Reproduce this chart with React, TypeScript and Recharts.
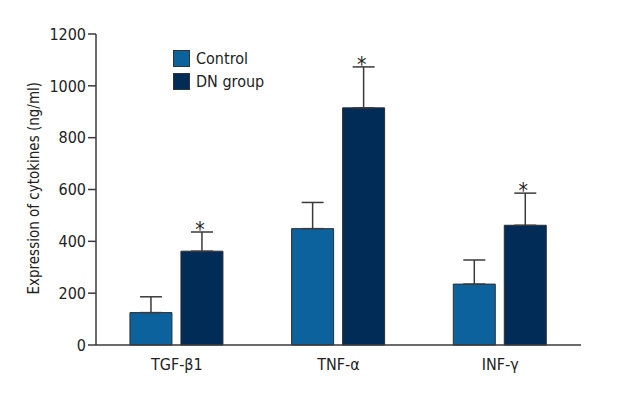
import { BarChart, Bar, XAxis, YAxis, ErrorBar, LabelList } from "recharts";

const categories = ["TGF-β1", "TNF-α", "INF-γ"];
const controlValues = [125, 449, 235];
const controlErrors = [61, 101, 93];
const dnValues = [362, 915, 462];
const dnErrors = [74, 158, 124];
const dnSignificant = [true, true, true];
const yTicks = [0, 200, 400, 600, 800, 1000, 1200];
const legendItems = [
  { label: "Control", color: "#0b629c" },
  { label: "DN group", color: "#022c58" },
];

const data = categories.map((name, i) => ({
  name,
  control: controlValues[i],
  controlErr: [0, controlErrors[i]],
  dn: dnValues[i],
  dnErr: [0, dnErrors[i]],
}));

const FONT = '"DejaVu Sans Condensed", "DejaVu Sans", sans-serif';
const AXIS = "#3a3a3a";

// asterisk sits just over the error bar cap
const Star = (props: any) => {
  const { x, width, index } = props;
  if (!dnSignificant[index]) return null;
  const top = props.y - dnErrors[index] * (311 / 1200);
  return (
    <text x={x + width / 2 - 2} y={top + 5} textAnchor="middle" fontSize={21} fontFamily={FONT} fill="#222">
      *
    </text>
  );
};

export default function App() {
  return (
    <div style={{ position: "absolute", left: 0, top: 0, width: 640, height: 400, background: "#fff" }}>
      <BarChart
        width={640}
        height={400}
        data={data}
        margin={{ top: 34, right: 59, bottom: 25, left: 0 }}
        barCategoryGap="21%"
        barGap={9}
      >
        <XAxis
          dataKey="name"
          height={30}
          tickLine={false}
          axisLine={{ stroke: AXIS, strokeWidth: 1.5 }}
          tick={{ fontSize: 16, fontFamily: FONT, fill: "#222" }}
          tickMargin={8}
        />
        <YAxis
          width={96}
          domain={[0, 1200]}
          ticks={yTicks}
          tickSize={8}
          axisLine={{ stroke: AXIS, strokeWidth: 1.5 }}
          tickLine={{ stroke: AXIS, strokeWidth: 1.5 }}
          tick={{ fontSize: 16, fontFamily: FONT, fill: "#222" }}
          label={{
            value: "Expression of cytokines (ng/ml)",
            angle: -90,
            position: "insideLeft",
            dx: 29,
            dy: 105,
            style: { fontSize: 15, fontFamily: FONT, fill: "#222" },
          }}
        />
        <Bar dataKey="control" name="Control" fill="#0b629c" stroke="#2e2e2e" strokeWidth={1} isAnimationActive={false}>
          <ErrorBar dataKey="controlErr" width={11} stroke={AXIS} strokeWidth={1.5} direction="y" />
        </Bar>
        <Bar dataKey="dn" name="DN group" fill="#022c58" stroke="#2e2e2e" strokeWidth={1} isAnimationActive={false}>
          <ErrorBar dataKey="dnErr" width={11} stroke={AXIS} strokeWidth={1.5} direction="y" />
          <LabelList dataKey="dn" content={Star} />
        </Bar>
      </BarChart>
      <div style={{ position: "absolute", left: 173, top: 47, fontFamily: FONT, fontSize: 16, color: "#222", lineHeight: "23px" }}>
        {legendItems.map((it) => (
          <div key={it.label} style={{ display: "flex", alignItems: "center" }}>
            <span style={{ width: 15, height: 15, background: it.color, border: "1px solid #333", marginRight: 6 }} />
            {it.label}
          </div>
        ))}
      </div>
    </div>
  );
}
